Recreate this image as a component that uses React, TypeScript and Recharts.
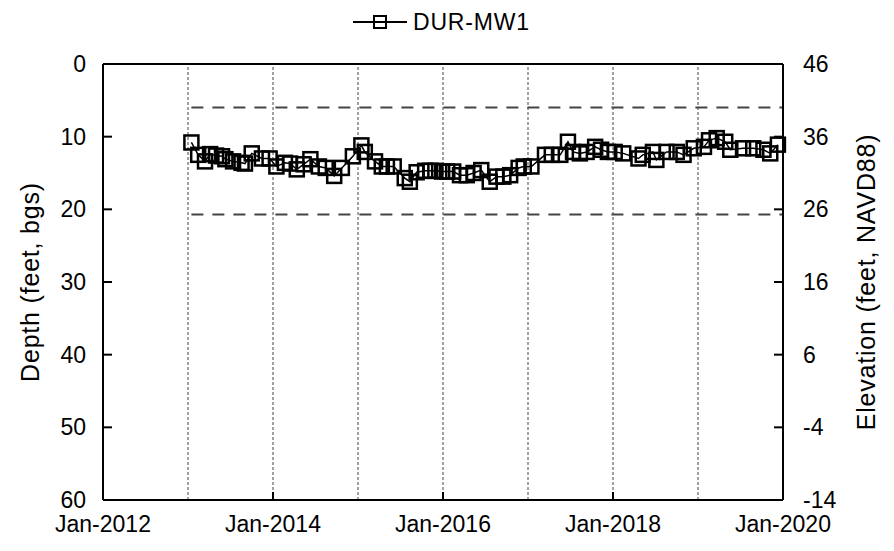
import { LineChart, Line, XAxis, YAxis, ReferenceLine } from "recharts";

// sampling dates (decimal years) and depth to water (feet bgs)
const sampleYears = [
  2013.04, 2013.12, 2013.2, 2013.26, 2013.33, 2013.4, 2013.44, 2013.53, 2013.63,
  2013.67, 2013.75, 2013.87, 2013.96, 2014.04, 2014.14, 2014.2, 2014.28, 2014.36,
  2014.44, 2014.54, 2014.62, 2014.72, 2014.81, 2014.94, 2015.04, 2015.08, 2015.2,
  2015.28, 2015.34, 2015.42, 2015.55, 2015.61, 2015.69, 2015.79, 2015.85, 2015.91,
  2015.99, 2016.05, 2016.12, 2016.2, 2016.28, 2016.36, 2016.45, 2016.55, 2016.63,
  2016.71, 2016.79, 2016.89, 2016.95, 2017.04, 2017.2, 2017.28, 2017.38, 2017.47,
  2017.53, 2017.61, 2017.69, 2017.79, 2017.86, 2017.94, 2018.02, 2018.12, 2018.3,
  2018.35, 2018.47, 2018.51, 2018.63, 2018.75, 2018.83, 2018.95, 2019.07, 2019.13,
  2019.22, 2019.32, 2019.38, 2019.53, 2019.65, 2019.77, 2019.85, 2019.94,
];
const depthFt = [
  10.8, 12.5, 13.4, 12.4, 12.6, 12.7, 13.1, 13.4, 13.6,
  13.7, 12.3, 13.0, 13.0, 14.1, 13.6, 13.7, 14.5, 13.8,
  13.1, 14.1, 14.3, 15.4, 14.3, 12.7, 11.2, 12.1, 13.4,
  14.1, 14.1, 14.1, 15.7, 16.2, 14.9, 14.7, 14.7, 14.7,
  14.8, 14.8, 14.8, 15.3, 15.3, 15.0, 14.6, 16.2, 15.5,
  15.5, 15.3, 14.3, 14.1, 14.1, 12.5, 12.5, 12.5, 10.7,
  12.1, 12.3, 12.1, 11.4, 11.8, 12.1, 12.1, 12.3, 13.0,
  12.5, 12.1, 13.2, 12.1, 12.1, 12.5, 11.6, 11.4, 10.5,
  10.2, 10.7, 11.8, 11.6, 11.6, 11.8, 12.3, 11.1,
];

const xTicks = [2012, 2014, 2016, 2018, 2020];
const gridYears = [2013, 2014, 2015, 2016, 2017, 2018, 2019];
const depthTicks = [0, 10, 20, 30, 40, 50, 60];
const elevTicks = [-14, -4, 6, 16, 26, 36, 46];
const groundElev = 46; // ft NAVD88 at depth 0
// screened interval, feet NAVD88
const screenTop = 40;
const screenBottom = 25.3;
const screenStart = 2013.04;
const screenEnd = 2020;

const data = sampleYears.map((t, i) => ({
  t,
  depth: depthFt[i],
  elev: groundElev - depthFt[i],
}));

const FONT = "'Liberation Sans', Arial, sans-serif";
const FS = 23;
const TITLE_FS = 25;

const LeftTick = ({ x, y, payload }: any) => (
  <g>
    <line x1={x + 17} x2={x + 26} y1={y} y2={y} stroke="#000" strokeWidth={2} />
    <text x={x} y={y} dy={8} textAnchor="end" fontFamily={FONT} fontSize={FS} fill="#000">
      {payload.value}
    </text>
  </g>
);

const RightTick = ({ x, y, payload }: any) => (
  <g>
    <line x1={x - 20} x2={x - 29} y1={y} y2={y} stroke="#000" strokeWidth={2} />
    <text x={x} y={y} dy={8} textAnchor="start" fontFamily={FONT} fontSize={FS} fill="#000">
      {payload.value}
    </text>
  </g>
);

const BottomTick = ({ x, y, payload }: any) => (
  <g>
    <line x1={x} x2={x} y1={y - 14} y2={y - 22} stroke="#000" strokeWidth={2} />
    <text x={x} y={y} dy={18} textAnchor="middle" fontFamily={FONT} fontSize={FS} fill="#000">
      {`Jan-${payload.value}`}
    </text>
  </g>
);

const SquareDot = ({ cx, cy, index }: any) => (
  <rect
    key={index}
    x={cx - 7}
    y={cy - 7}
    width={14}
    height={14}
    fill="none"
    stroke="#000"
    strokeWidth={2.5}
  />
);

const sideTitle = (text: string, dx: number) => (props: any) => {
  const vb = props.viewBox;
  const cx = vb.x + dx;
  const cy = vb.y + vb.height / 2;
  return (
    <text
      x={cx}
      y={cy}
      transform={`rotate(-90 ${cx} ${cy})`}
      textAnchor="middle"
      dominantBaseline="central"
      fontFamily={FONT}
      fontSize={TITLE_FS}
      letterSpacing={0.8}
      fill="#000"
    >
      {text}
    </text>
  );
};

export default function App() {
  return (
    <div style={{ position: "absolute", left: 0, top: 0, width: 894, height: 551, background: "#fff" }}>
      <svg width={894} height={44} style={{ position: "absolute", left: 0, top: 0 }}>
        <line x1={353} x2={407} y1={22} y2={22} stroke="#000" strokeWidth={2} />
        <rect x={374} y={16} width={12} height={12} fill="none" stroke="#000" strokeWidth={2} />
        <text x={413} y={30} fontFamily={FONT} fontSize={23} letterSpacing={0.8} fill="#000">
          DUR-MW1
        </text>
      </svg>
      <LineChart
        width={894}
        height={551}
        data={data}
        margin={{ top: 64, right: 0, bottom: 0, left: 0 }}
      >
        <XAxis
          dataKey="t"
          type="number"
          domain={[2012, 2020]}
          ticks={xTicks}
          height={51}
          tickSize={0}
          tickMargin={14}
          tickLine={false}
          axisLine={{ stroke: "#000", strokeWidth: 2 }}
          tick={<BottomTick />}
          interval={0}
        />
        <YAxis
          yAxisId="depth"
          type="number"
          domain={[0, 60]}
          reversed
          ticks={depthTicks}
          width={103}
          tickSize={0}
          tickMargin={17}
          tickLine={false}
          axisLine={{ stroke: "#000", strokeWidth: 2 }}
          tick={<LeftTick />}
          interval={0}
          label={{ content: sideTitle("Depth (feet, bgs)", 30) }}
        />
        <YAxis
          yAxisId="elev"
          orientation="right"
          type="number"
          domain={[-14, 46]}
          allowDataOverflow
          ticks={elevTicks}
          width={111}
          tickSize={0}
          tickMargin={20}
          tickLine={false}
          axisLine={{ stroke: "#000", strokeWidth: 2 }}
          tick={<RightTick />}
          interval={0}
          label={{ content: sideTitle("Elevation (feet, NAVD88)", 83) }}
        />
        {gridYears.map((yr) => (
          <ReferenceLine
            key={yr}
            x={yr}
            yAxisId="depth"
            stroke="#444"
            strokeWidth={1}
            strokeDasharray="3 2"
          />
        ))}
        <ReferenceLine yAxisId="depth" y={0} stroke="#000" strokeWidth={2} />
        <ReferenceLine
          yAxisId="elev"
          segment={[
            { x: screenStart, y: screenTop },
            { x: screenEnd, y: screenTop },
          ]}
          stroke="#444"
          strokeWidth={2}
          strokeDasharray="12 9"
        />
        <ReferenceLine
          yAxisId="elev"
          segment={[
            { x: screenStart, y: screenBottom },
            { x: screenEnd, y: screenBottom },
          ]}
          stroke="#444"
          strokeWidth={2}
          strokeDasharray="12 9"
        />
        {/* elevation view of the same readings, only there to drive the right axis */}
        <Line
          yAxisId="elev"
          dataKey="elev"
          stroke="none"
          dot={false}
          activeDot={false}
          legendType="none"
          isAnimationActive={false}
        />
        <Line
          yAxisId="depth"
          dataKey="depth"
          type="linear"
          stroke="#000"
          strokeWidth={1.5}
          dot={<SquareDot />}
          isAnimationActive={false}
        />
      </LineChart>
    </div>
  );
}
